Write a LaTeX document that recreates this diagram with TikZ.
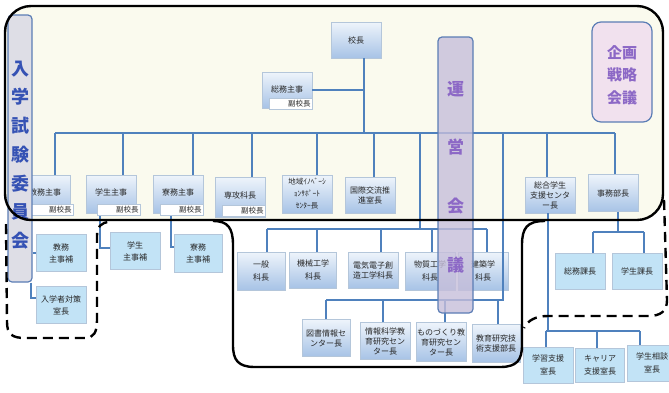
\documentclass[tikz,border=0pt]{standalone}
\usepackage{fontspec}
\setmainfont{Noto Sans CJK JP}
\usetikzlibrary{positioning}
\definecolor{linkblue}{HTML}{4F81BD}
\definecolor{boxline}{HTML}{B4C6DA}
\definecolor{gtop}{HTML}{EEF4FB}
\definecolor{gbot}{HTML}{A7C3E6}
\definecolor{lblue}{HTML}{C2E3F6}
\definecolor{cream}{HTML}{FAFAEE}
\definecolor{titleblue}{HTML}{3552B4}
\definecolor{titlepurple}{HTML}{8C68C6}
\definecolor{tallblue}{HTML}{5B7DB5}
\definecolor{greyfill}{HTML}{DEDEE6}
\definecolor{purplefill}{HTML}{C6BEDA}
\definecolor{pinkfill}{HTML}{F1E1EE}
\newcommand{\bxfont}{\fontsize{8}{10}\selectfont}
\newcommand{\vcfont}{\fontsize{7.5}{9}\selectfont}

\begin{document}
\begin{tikzpicture}[x=1pt, y=-1pt,
  gbox/.style={draw=boxline, top color=gtop, bottom color=gbot,
               minimum width=50pt, minimum height=37pt, inner sep=1pt,
               font=\bxfont, align=center, text=black!85},
  lbox/.style={draw=boxline, fill=lblue,
               minimum width=50pt, minimum height=37pt, inner sep=1pt,
               font=\bxfont, align=center, text=black!85},
  vice/.style={draw=boxline, fill=white, minimum width=43pt,
               minimum height=11pt, inner sep=1pt, text width=40pt,
               align=right, font=\vcfont, text=black!85},
  tall/.style={draw=tallblue, line width=1.2pt, rounded corners=4pt},
  conn/.style={draw=linkblue, line width=1.8pt},
  frame/.style={line width=2.4pt, black},
  dframe/.style={frame, dash pattern=on 10pt off 6pt}
]
\useasboundingbox (0,0) rectangle (669,392);
\fill[white] (0,0) rectangle (669,392);
\fill[cream, rounded corners=26pt] (5,6) rectangle (663,220);

% Top
\node[gbox, minimum height=36pt] (kocho) at (356,40) {校長};
\node[gbox, minimum height=36pt] (somushuji) at (287,90) {\raisebox{2pt}{総務主事}};

% Row 1
\node[gbox, minimum height=38pt] (kyomu)   at (45,194)  {\raisebox{3pt}{教務主事}};
\node[gbox, minimum height=38pt] (gakusei) at (111,194) {\raisebox{3pt}{学生主事}};
\node[gbox, minimum height=38pt] (ryomu)   at (178,194) {\raisebox{3pt}{寮務主事}};
\node[gbox, minimum height=40pt] (senko)   at (240,197) {\raisebox{4pt}{専攻科長}};
\node[gbox, minimum height=38pt, font=\fontsize{7.5}{12}\selectfont] (chiiki) at (307,194)
  {地域ｲﾉﾍﾞｰｼ\\ｮﾝｻﾎﾟｰﾄ\\ｾﾝﾀｰ長};
\node[gbox, minimum height=36pt] (kokusai) at (370,195) {国際交流推\\進室長};
\node[gbox, minimum height=36pt] (sogo)    at (550,195) {総合学生\\支援センタ\\ー長};
\node[gbox, minimum height=37pt] (jimu)    at (613,193) {事務部長};

% Row 2
\node[gbox, minimum width=48pt, minimum height=38pt] (ippan) at (261,271) {一般\\[3pt]科長};
\node[gbox, minimum width=47pt, minimum height=36pt] (kikai) at (313,270) {機械工学\\[3pt]科長};
\node[gbox, minimum height=36pt] (denki)     at (373,270) {電気電子創\\造工学科長};
\node[gbox, minimum height=38pt] (busshitsu) at (430,271) {物質工学\\[3pt]科長};
\node[gbox, minimum height=38pt] (kenchiku)  at (483,271) {建築学\\[3pt]科長};

% Row 3
\node[gbox, minimum width=48pt] (tosho)      at (326,338) {図書情報セ\\ンター長};
\node[gbox]                     (johokagaku) at (385,341) {情報科学教\\育研究セン\\ター長};
\node[gbox, minimum height=39pt] (monozukuri) at (441,342) {ものづくり教\\育研究セン\\ター長};
\node[gbox, minimum width=48pt, minimum height=38pt] (gijutsu) at (496,343) {教育研究技\\術支援部長};

% Left assistants
\node[lbox] (kyomuhojo) at (61,253)  {教務\\[2pt]主事補};
\node[lbox] (taisaku)   at (61,305)  {入学者対策\\[2pt]室長};
\node[lbox] (gakuhojo)  at (135,251) {学生\\[2pt]主事補};
\node[lbox, minimum width=48pt, minimum height=38pt] (ryohojo) at (198,253) {寮務\\[2pt]主事補};

% Right offices
\node[lbox, minimum height=36pt] (somuka)    at (580,271) {総務課長};
\node[lbox, minimum height=36pt] (gakuseika) at (637,271) {学生課長};
\node[lbox, minimum height=36pt] (gakushu)   at (548,365) {学習支援\\[3pt]室長};
\node[lbox, minimum width=49pt, minimum height=34pt] (career) at (600,365) {キャリア\\[3pt]支援室長};
\node[lbox, minimum height=36pt] (sodan)     at (652,363) {学生相談\\[3pt]室長};

% Connectors
\coordinate (busL) at (55,133);
\coordinate (busR) at (615,133);
\coordinate (bus2) at (420,229);
\coordinate (bus3) at (503,300);
\coordinate (bus4) at (618,232);
\coordinate (bus5) at (548,331);
\draw[conn] (busL) -- (busR);
\draw[conn] ([xshift=8pt]kocho.south) -- ([xshift=8pt]kocho.south |- busL);
\draw[conn] (somushuji.east) -- ([xshift=8pt]kocho.south |- somushuji.east);
\foreach \n/\s in {kyomu/10, gakusei/12, ryomu/15, senko/12, chiiki/10, kokusai/4, sogo/-3, jimu/2}
  \draw[conn] ([xshift=\s pt]\n.north) -- ([xshift=\s pt]\n.north |- busL);
\draw[conn] (bus2 |- busL) -- (bus2);
\draw[conn] ([xshift=6pt]ippan.north |- bus2) -- ([xshift=4pt]kenchiku.north |- bus2);
\foreach \n/\s in {ippan/6, kikai/4, denki/8, busshitsu/2, kenchiku/4}
  \draw[conn] ([xshift=\s pt]\n.north) -- ([xshift=\s pt]\n.north |- bus2);
\draw[conn] (bus3 |- busL) -- (bus3) -- (tosho.north |- bus3);
\foreach \n/\s in {tosho/0, johokagaku/-2, monozukuri/4, gijutsu/2}
  \draw[conn] ([xshift=\s pt]\n.north) -- ([xshift=\s pt]\n.north |- bus3);
\draw[conn] ([xshift=5pt]jimu.south) -- ([xshift=5pt]jimu.south |- bus4);
\draw[conn] ([xshift=13pt]somuka.north |- bus4) -- ([xshift=7pt]gakuseika.north |- bus4);
\foreach \n/\s in {somuka/13, gakuseika/7}
  \draw[conn] ([xshift=\s pt]\n.north) -- ([xshift=\s pt]\n.north |- bus4);
\draw[conn] ([xshift=-2pt]sogo.south) -- ([xshift=-2pt]sogo.south |- bus5);
\draw[conn] ([xshift=-2pt]gakushu.north |- bus5) -- ([xshift=-12pt]sodan.north |- bus5);
\foreach \n/\s in {gakushu/-2, career/-3, sodan/-12}
  \draw[conn] ([xshift=\s pt]\n.north) -- ([xshift=\s pt]\n.north |- bus5);
\draw[conn] ([xshift=-11pt]gakusei.south) |- ([yshift=3pt]gakuhojo.west);
\draw[conn] ([xshift=-7pt]ryomu.south) |- ([yshift=6pt]ryohojo.west);

% Vice principal tags
\node[vice, anchor=south east] (somuvice)    at ([shift={(0pt,-1pt)}]somushuji.south east) {副校長};
\node[vice, anchor=south east] (kyomuvice)   at ([shift={(3pt,-2pt)}]kyomu.south east) {副校長};
\node[vice, anchor=south east] (gakuseivice) at ([shift={(4pt,-2pt)}]gakusei.south east) {副校長};
\node[vice, anchor=south east] (ryomuvice)   at ([shift={(0pt,-2pt)}]ryomu.south east) {副校長};
\node[vice, anchor=south east] (senkovice)   at ([shift={(0pt,1pt)}]senko.south east) {副校長};

% Councils
\node[tall, fill=greyfill, minimum width=24pt, minimum height=267pt] (nyushi) at (20,148.5) {};
\node[text=titleblue, align=center, inner sep=0pt,
      font=\fontsize{18}{28.7}\selectfont\bfseries] (nyushititle) at (20,155) {入\\学\\試\\験\\委\\員\\会};
\node[tall, fill=purplefill, fill opacity=0.8, minimum width=35pt, minimum height=276pt] (unei) at (455.5,175) {};
\node[text=titlepurple, align=center, inner sep=0pt,
      font=\fontsize{17}{58.7}\selectfont\bfseries] (ueititle) at (455.5,177) {運\\営\\会\\議};
\node[tall, fill=pinkfill, rounded corners=9pt, minimum width=60pt, minimum height=100pt] (kikaku) at (622,72) {};
\node[text=titlepurple, align=center, inner sep=0pt,
      font=\fontsize{15}{22.5}\selectfont\bfseries] (kikakutitle) at (622,75) {企画\\戦略\\会議};
\draw[conn] (nyushi.east |- kyomuhojo.west) -- (kyomuhojo.west);
\draw[conn] ([xshift=11pt]nyushi.south) |- ([yshift=7pt]taisaku.west);

% Frames
\draw[frame, rounded corners=26pt] (5,6) rectangle (663,220);
\draw[frame] (213,221) .. controls (228,221) and (233,228) .. (233,245) -- (233,345)
  .. controls (233,360) and (238,367) .. (255,367) -- (500,367)
  .. controls (517,367) and (522,360) .. (522,345) -- (522,245)
  .. controls (522,228) and (527,221) .. (545,221);
\draw[dframe] (6,224) -- (7,322) .. controls (7,334) and (12,338) .. (25,338) -- (85,338)
  .. controls (94,338) and (97,332) .. (97,320) -- (97,236)
  .. controls (97,227) and (101,222) .. (110,222);
\draw[dframe] (664,200) -- (667,300) .. controls (667,311) and (661,316) .. (648,316) -- (548,316)
  .. controls (536,316) and (528,320) .. (524,328);
\end{tikzpicture}
\end{document}
